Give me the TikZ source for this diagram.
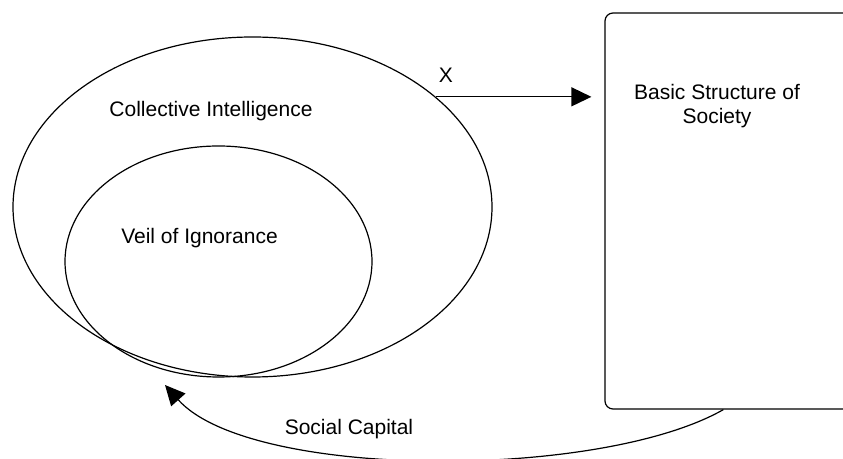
\documentclass[tikz,border=0pt]{standalone}
\usepackage{fontspec}
\setmainfont{Liberation Sans}
\usetikzlibrary{shapes.geometric,arrows.meta}

\begin{document}
\begin{tikzpicture}[x=0.5pt,y=-0.5pt,line width=0.6pt,
    every node/.style={font=\fontsize{10.5}{12}\selectfont},
    ring/.style={draw,ellipse,inner sep=0pt},
    flow/.style={-{Triangle[length=10pt,width=9.5pt]}}]
  \useasboundingbox (0,0) rectangle (843,459);
  \clip (0,0) rectangle (843,459);
  % the two rings
  \node[ring,minimum width=239.5pt,minimum height=170pt] (ci) at (252.5,207) {};
  \node[ring,minimum width=153.5pt,minimum height=115.5pt] (veil) at (218.5,261.5) {};
  \node[anchor=base] (citext) at (211,117) {Collective Intelligence};
  \node[anchor=base] (veiltext) at (199.5,244) {Veil of Ignorance};
  % the box on the right runs off the page
  \node[draw,rounded corners=4pt,minimum width=137.5pt,minimum height=198pt,inner sep=0pt]
    (society) at (742.5,211) {};
  \node[align=center] (societytext) at (717,106) {Basic Structure of\\Society};
  \coordinate (captip) at (165,385);
  \begin{scope}[flow]
    \draw[shorten >=6.5pt] (ci.31) -- (ci.31 -| society.west)
      node[pos=0.06,above=7pt,anchor=base] (x) {X};
    \draw ([xshift=59.5pt]society.south west) .. controls (600,480) and (250,480) .. (captip);
  \end{scope}
  \node[anchor=base] (capital) at (349,435) {Social Capital};
\end{tikzpicture}
\end{document}
